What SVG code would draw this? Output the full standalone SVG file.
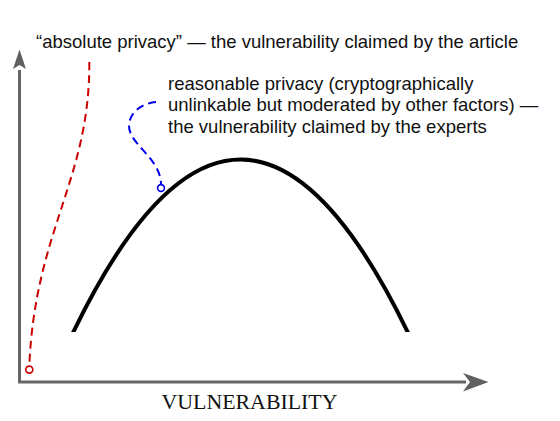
<svg xmlns="http://www.w3.org/2000/svg" width="560" height="421" viewBox="0 0 560 421">
<style>
.lbl{font-family:"Liberation Sans",Arial,sans-serif;font-size:18.5px;fill:#111}
.ax{stroke:#666;stroke-width:3;fill:none}
.head{fill:#606060}
.conn{fill:none;stroke-width:2;stroke-dasharray:8,5}
.end{fill:#fff;stroke-width:1.6}
</style>
<defs>
<clipPath id="cc"><rect x="0" y="0" width="560" height="332"/></clipPath>
</defs>
<rect width="560" height="421" fill="#fff"/>
<g id="axes">
<path class="ax" d="M19.5,70 V382 H466"/>
<polygon class="head" points="19.5,49.5 26,69 19.5,65 13,69"/>
<polygon class="head" points="488.5,382 463,373 470,382 463,391.5"/>
</g>
<g id="axis-label">
<text x="161.5" y="409.3" font-family="Liberation Serif,'Times New Roman',serif" font-size="21" fill="#111" textLength="176" lengthAdjust="spacingAndGlyphs">VULNERABILITY</text>
</g>
<g id="curve">
<path d="M71.4,336 Q240.5,-17 409.6,336" fill="none" stroke="#000" stroke-width="4" clip-path="url(#cc)"/>
</g>
<g id="label-absolute">
<text class="lbl" x="36" y="47.5">“absolute privacy” — the vulnerability claimed by the article</text>
</g>
<g id="label-reasonable">
<text class="lbl" x="168" y="89.5">reasonable privacy (cryptographically</text>
<text class="lbl" x="168" y="111">unlinkable but moderated by other factors) —</text>
<text class="lbl" x="168" y="132.5">the vulnerability claimed by the experts</text>
</g>
<g id="connectors">
<path class="conn" stroke="#cc0000" d="M89.3,62 C90,180 35,230 29.3,366"/>
<circle class="end" stroke="#cc0000" cx="29.3" cy="369.6" r="3.5"/>
<path class="conn" stroke="#0000ee" d="M156,102 C136,104 124,120 131,134 C137,148 161,162 161,184.5"/>
<circle class="end" stroke="#0000ee" cx="161" cy="188" r="3.4"/>
</g>
</svg>
